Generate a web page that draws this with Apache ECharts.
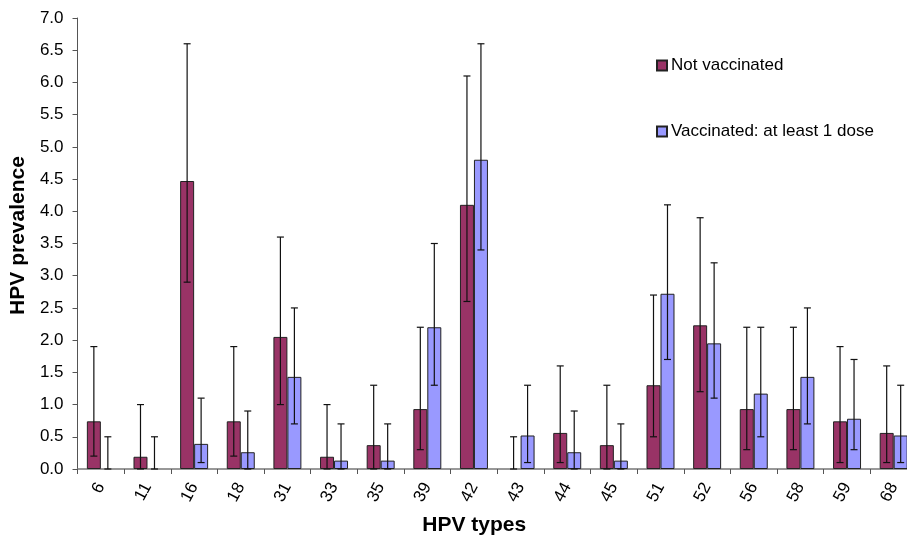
<!DOCTYPE html>
<html>
<head>
<meta charset="utf-8">
<script src="https://cdn.jsdelivr.net/npm/echarts@6/dist/echarts.min.js"></script>
<style>
  html, body { margin: 0; padding: 0; background: #fff; overflow: hidden; }
  /* the last category runs past the right edge of the picture */
  #chart { width: 917px; height: 541px; }
</style>
</head>
<body>
<div id="chart"></div>
<script>
const hpvTypes = ['6', '11', '16', '18', '31', '33', '35', '39', '42', '43', '44', '45', '51', '52', '56', '58', '59', '68']

// Not vaccinated: prevalence and error range
const notVaccinated = [0.74, 0.19, 4.47, 0.74, 2.05, 0.19, 0.37, 0.93, 4.10, 0, 0.56, 0.37, 1.30, 2.23, 0.93, 0.93, 0.74, 0.56]
const notVaccinatedLow = [0.2, 0, 2.9, 0.2, 1.0, 0, 0, 0.3, 2.6, 0, 0.1, 0, 0.5, 1.2, 0.3, 0.3, 0.1, 0.1]
const notVaccinatedHigh = [1.9, 1.0, 6.6, 1.9, 3.6, 1.0, 1.3, 2.2, 6.1, 0.5, 1.6, 1.3, 2.7, 3.9, 2.2, 2.2, 1.9, 1.6]

// Vaccinated: at least 1 dose
const vaccinated = [0, 0, 0.39, 0.26, 1.43, 0.13, 0.13, 2.20, 4.80, 0.52, 0.26, 0.13, 2.72, 1.95, 1.17, 1.43, 0.78, 0.52]
const vaccinatedLow = [0, 0, 0.1, 0, 0.7, 0, 0, 1.3, 3.4, 0.1, 0, 0, 1.7, 1.1, 0.5, 0.7, 0.3, 0.1]
const vaccinatedHigh = [0.5, 0.5, 1.1, 0.9, 2.5, 0.7, 0.7, 3.5, 6.6, 1.3, 0.9, 0.7, 4.1, 3.2, 2.2, 2.5, 1.7, 1.3]

const BAR_SHARE = 0.3
const FONT = '"Liberation Sans", Arial, sans-serif'

function errorBars(side) {
  return function (params, api) {
    const idx = api.value(0)
    const lo = api.coord([idx, api.value(1)])
    const hi = api.coord([idx, api.value(2)])
    const band = api.size([1, 0])[0]
    const x = lo[0] + side * band * BAR_SHARE / 2
    const cap = 3.5
    const style = { stroke: '#111', lineWidth: 1.2 }
    return {
      type: 'group',
      children: [
        { type: 'line', shape: { x1: x, y1: lo[1], x2: x, y2: hi[1] }, style },
        { type: 'line', shape: { x1: x - cap, y1: hi[1], x2: x + cap, y2: hi[1] }, style },
        { type: 'line', shape: { x1: x - cap, y1: lo[1], x2: x + cap, y2: lo[1] }, style },
      ],
    }
  }
}

// zero-height bars are not drawn in the original
const barData = arr => arr.map(v => (v === 0 ? null : v))

const chart = echarts.init(document.getElementById('chart'))

chart.setOption({
  animation: false,
  backgroundColor: '#fff',
  textStyle: { fontFamily: FONT },
  legend: {
    orient: 'vertical',
    left: 651,
    top: 52,
    itemGap: 49,
    itemWidth: 10,
    itemHeight: 10,
    icon: 'rect',
    data: ['Not vaccinated', 'Vaccinated: at least 1 dose'],
    textStyle: { fontSize: 17, color: '#000', fontFamily: FONT, padding: [0, 0, 0, -1] },
  },
  grid: {
    left: 77,
    top: 18,
    right: 0,
    bottom: 71,
  },
  xAxis: {
    type: 'category',
    data: hpvTypes,
    name: 'HPV types',
    nameLocation: 'middle',
    nameGap: 46,
    nameTextStyle: { fontSize: 21, fontWeight: 'bold', color: '#000', fontFamily: FONT, padding: [0, 46, 0, 0] },
    axisLine: { lineStyle: { color: '#777', width: 1.5 } },
    axisTick: { show: true, length: 5, lineStyle: { color: '#555' } },
    axisLabel: {
      color: '#000',
      fontSize: 17,
      rotate: 62,
      margin: 15,
      interval: 0,
    },
  },
  yAxis: {
    type: 'value',
    min: 0,
    max: 7,
    interval: 0.5,
    name: 'HPV prevalence',
    nameLocation: 'middle',
    nameGap: 45,
    nameTextStyle: { fontSize: 21, fontWeight: 'bold', color: '#000', fontFamily: FONT, padding: [0, 0, 0, 16] },
    axisLine: { show: true, lineStyle: { color: '#555' } },
    axisTick: { show: true, length: 5, lineStyle: { color: '#555' } },
    splitLine: { show: false },
    axisLabel: {
      color: '#000',
      fontSize: 17,
      margin: 14,
      formatter: v => v.toFixed(1),
    },
  },
  series: [
    {
      name: 'Not vaccinated',
      type: 'bar',
      barCategoryGap: '40%',
      barGap: '0%',
      itemStyle: { color: '#993366', borderColor: '#222', borderWidth: 1 },
      data: barData(notVaccinated),
    },
    {
      name: 'Vaccinated: at least 1 dose',
      type: 'bar',
      barCategoryGap: '40%',
      barGap: '0%',
      itemStyle: { color: '#9999FF', borderColor: '#222', borderWidth: 1 },
      data: barData(vaccinated),
    },
    {
      type: 'custom',
      renderItem: errorBars(-1),
      z: 5,
      encode: { x: 0, y: [1, 2] },
      data: hpvTypes.map((t, i) => [i, notVaccinatedLow[i], notVaccinatedHigh[i]]),
    },
    {
      type: 'custom',
      renderItem: errorBars(1),
      z: 5,
      encode: { x: 0, y: [1, 2] },
      data: hpvTypes.map((t, i) => [i, vaccinatedLow[i], vaccinatedHigh[i]]),
    },
  ],
})
</script>
</body>
</html>
